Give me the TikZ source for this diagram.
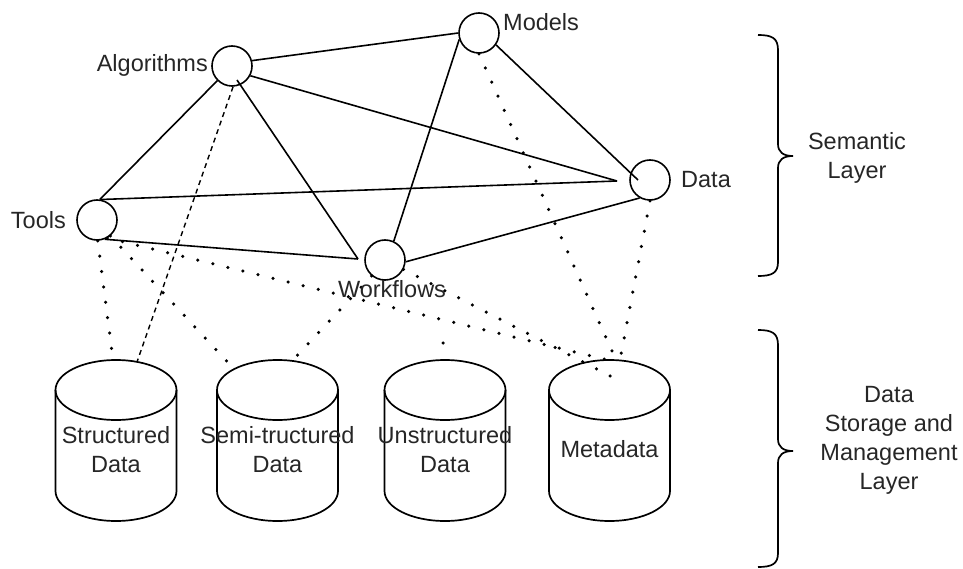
\documentclass[tikz,border=0pt]{standalone}
\usepackage{fontspec}
\setmainfont{Liberation Sans}
\newcommand{\labelfont}{\fontsize{23.5}{29}\selectfont}
\begin{document}
\begin{tikzpicture}[x=1pt, y=-1pt,
  entity/.style={circle, draw, line width=1.6pt, minimum size=40pt, inner sep=0pt},
  lbl/.style={text=black!85, font=\labelfont, inner sep=0pt, align=center},
  link/.style={line width=1.6pt},
  dotlink/.style={line width=3.5pt, line cap=round, dash pattern=on 0pt off 15.5pt},
  dashlink/.style={line width=1.4pt, dash pattern=on 5pt off 4pt},
  cyl/.style={line width=1.7pt},
  bracket/.style={line width=1.7pt}]
\useasboundingbox (0,0) rectangle (963,569);

% semantic layer entities
\node[entity] (alg)  at (232,66)  {};
\node[entity] (mod)  at (479,33)  {};
\node[entity] (dat)  at (650,180) {};
\node[entity] (tool) at (97,220)  {};
\node[entity] (wf)   at (385,260) {};

% storage cylinders (top ellipse centre at y=390, bottom at y=491)
\foreach \cx in {116,277.5,445,609.5}{
  \draw[cyl] (\cx,390) ellipse [x radius=60.5, y radius=30];
  \draw[cyl] (\cx-60.5,390) -- (\cx-60.5,491)
    arc[start angle=180, end angle=0, x radius=60.5, y radius=30] -- (\cx+60.5,390);
}
\node[lbl] (stT) at (116,450)   {Structured\\Data};
\node[lbl] (smT) at (277.5,450) {Semi-tructured\\Data};
\node[lbl] (unT) at (445,450)   {Unstructured\\Data};
\node[lbl] (mtT) at (609.5,449) {Metadata};

% connector end points
\coordinate (datL)  at (617,181);
\coordinate (datIn) at (638,180);
\coordinate (wfL)   at (358,259);
\coordinate (algIn) at (237,80);
\coordinate (stA)   at (113,360);
\coordinate (stB)   at (137,362);
\coordinate (smA)   at (233,368);
\coordinate (smB)   at (293,360);
\coordinate (mtA)   at (612,361);
\coordinate (mtB)   at (618,380);
\coordinate (mtC)   at (616,360);
\coordinate (mtD)   at (620,360);
\coordinate (unStub) at (443,343);
\coordinate (unTop)  at (445,358);

% relations between entities
\draw[link] (alg.15)  -- (mod.180);
\draw[link] (alg.-28) -- (datL);
\draw[link] (tool.80) -- (datL);
\draw[link] (mod.-35) -- (datIn);
\draw[link] (wf.-5)   -- (dat.-120);
\draw[link] (mod.198) -- (wf.65);
\draw[link] (alg.225) -- (tool.82);
\draw[link] (algIn)   -- (wfL);
\draw[link] (tool.-68) -- (wfL);

% links down to the storage layer
\draw[dashlink] (alg.-87) -- (stB);
\draw[dotlink] (tool.-88) -- (stA);
\draw[dotlink] (tool.-50) -- (smA);
\draw[dotlink] (tool.-60) -- (mtA);
\draw[dotlink] (wf.-130)  -- (smB);
\draw[dotlink] (wf.-27)   -- (mtB);
\draw[dotlink] (mod.-90)  -- (mtC);
\draw[dotlink] (dat.-90)  -- (mtD);
\draw[dotlink] (unStub)   -- (unTop);

% entity labels
\node[lbl, anchor=east] (algT)  at (208,65)  {Algorithms};
\node[lbl, anchor=west] (modT)  at (503,22)  {Models};
\node[lbl, anchor=west] (datT)  at (681,180) {Data};
\node[lbl, anchor=east] (toolT) at (66,220)  {Tools};
\node[lbl] (wfT) at (392,289) {Workflows};

% layer braces
\draw[bracket] (758,35) .. controls (772,35) and (778,38) .. (778,50) -- (778,144)
  .. controls (778,152) and (783,156) .. (793,156)
  .. controls (783,156) and (778,160) .. (778,168) -- (778,262)
  .. controls (778,273) and (772,276) .. (758,276);
\draw[bracket] (758,330) .. controls (772,330) and (778,333) .. (778,345) -- (778,439)
  .. controls (778,447) and (783,451) .. (793,451)
  .. controls (783,451) and (778,455) .. (778,463) -- (778,553)
  .. controls (778,564) and (772,567) .. (758,567);

\node[lbl] (semT) at (857,158) {Semantic\\Layer};
\node[lbl] (dsT)  at (889,440) {Data\\Storage and\\Management\\Layer};
\end{tikzpicture}
\end{document}
